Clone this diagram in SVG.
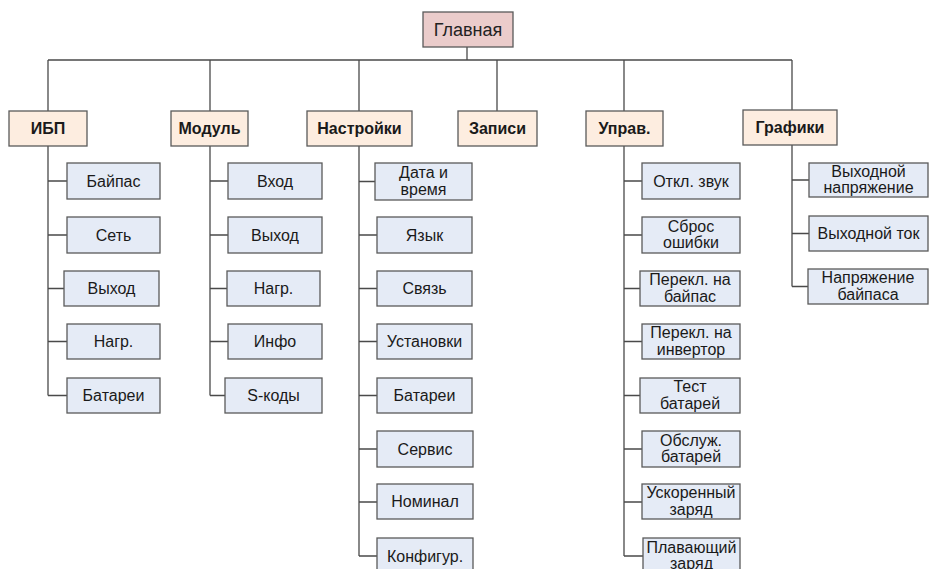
<svg xmlns="http://www.w3.org/2000/svg" width="929" height="569" viewBox="0 0 929 569">
  <style>
    .box rect { stroke: #5a5a5a; stroke-width: 1.3; }
    .root rect { fill: #ebcccb; }
    .sect rect { fill: #fdede0; }
    .item rect { fill: #e5ebf6; }
    text { font-family: "Liberation Sans", Arial, sans-serif; font-size: 16px; fill: #1a1a1a; text-anchor: middle; }
    .sect text { font-weight: bold; }
    .root text { font-size: 18px; fill: #222; }
    #connectors path { fill: none; stroke: #4a4a4a; stroke-width: 1.3; }
  </style>
  <rect width="929" height="569" fill="#ffffff"/>

  <g id="connectors">
    <!-- root to bus -->
    <path d="M467,47 V60 M48,60 H792"/>
    <!-- bus to sections -->
    <path d="M48,60 V111 M210,60 V111 M359,60 V111 M497,60 V111 M624,60 V111 M792,60 V110"/>
    <!-- ИБП branch -->
    <path d="M48,146 V395.5 M48,181 H67 M48,235 H67 M48,288.5 H64 M48,341.5 H67 M48,395.5 H67"/>
    <!-- Модуль branch -->
    <path d="M210,146 V395.5 M210,181 H228 M210,235 H228 M210,288.5 H227 M210,341.5 H228 M210,395.5 H225"/>
    <!-- Настройки branch -->
    <path d="M359,146 V556 M359,181.5 H375 M359,235 H377 M359,288.5 H377 M359,341.5 H377 M359,395.5 H377 M359,449 H377 M359,502 H377 M359,556 H377"/>
    <!-- Управ. branch -->
    <path d="M624,146 V556 M624,181 H642 M624,235 H642 M624,288.5 H640 M624,341.5 H642 M624,395.5 H640 M624,449 H642 M624,502 H642 M624,556 H643"/>
    <!-- Графики branch -->
    <path d="M792,145 V286.5 M792,180 H809 M792,233.5 H809 M792,286.5 H808"/>
  </g>

  <!-- root -->
  <g id="n-main" class="box root"><rect x="423" y="12" width="90" height="35"/><text x="468" y="35.5">Главная</text></g>

  <!-- sections -->
  <g id="n-ups" class="box sect"><rect x="9" y="111" width="78" height="35"/><text x="48" y="134">ИБП</text></g>
  <g id="n-module" class="box sect"><rect x="171" y="111" width="77" height="35"/><text x="209.5" y="134">Модуль</text></g>
  <g id="n-settings" class="box sect"><rect x="307" y="111" width="105" height="35"/><text x="359.5" y="134">Настройки</text></g>
  <g id="n-records" class="box sect"><rect x="458" y="111" width="79" height="35"/><text x="497.5" y="134">Записи</text></g>
  <g id="n-control" class="box sect"><rect x="586" y="111" width="77" height="35"/><text x="624.5" y="134">Управ.</text></g>
  <g id="n-graphs" class="box sect"><rect x="743" y="110" width="94" height="35"/><text x="790" y="133">Графики</text></g>

  <!-- ИБП items -->
  <g id="n-ups-bypass" class="box item"><rect x="67" y="163" width="93" height="36"/><text x="113.5" y="186.5">Байпас</text></g>
  <g id="n-ups-mains" class="box item"><rect x="67" y="217" width="93" height="36"/><text x="113.5" y="240.5">Сеть</text></g>
  <g id="n-ups-output" class="box item"><rect x="64" y="271" width="95" height="35"/><text x="111.5" y="294">Выход</text></g>
  <g id="n-ups-load" class="box item"><rect x="67" y="324" width="93" height="35"/><text x="113.5" y="347">Нагр.</text></g>
  <g id="n-ups-battery" class="box item"><rect x="67" y="378" width="93" height="35"/><text x="113.5" y="401">Батареи</text></g>

  <!-- Модуль items -->
  <g id="n-mod-input" class="box item"><rect x="228" y="163" width="94" height="36"/><text x="275" y="186.5">Вход</text></g>
  <g id="n-mod-output" class="box item"><rect x="228" y="217" width="94" height="36"/><text x="275" y="240.5">Выход</text></g>
  <g id="n-mod-load" class="box item"><rect x="227" y="271" width="93" height="35"/><text x="273.5" y="294">Нагр.</text></g>
  <g id="n-mod-info" class="box item"><rect x="228" y="324" width="94" height="35"/><text x="275" y="347">Инфо</text></g>
  <g id="n-mod-scodes" class="box item"><rect x="225" y="378" width="97" height="35"/><text x="273.5" y="401">S-коды</text></g>

  <!-- Настройки items -->
  <g id="n-set-datetime" class="box item"><rect x="375" y="163" width="97" height="37"/><text x="423.5" y="178">Дата и</text><text x="423.5" y="194.5">время</text></g>
  <g id="n-set-lang" class="box item"><rect x="377" y="217" width="95" height="36"/><text x="424.5" y="240.5">Язык</text></g>
  <g id="n-set-comm" class="box item"><rect x="377" y="271" width="95" height="35"/><text x="424.5" y="294">Связь</text></g>
  <g id="n-set-setup" class="box item"><rect x="377" y="324" width="95" height="35"/><text x="424.5" y="347">Установки</text></g>
  <g id="n-set-battery" class="box item"><rect x="377" y="378" width="95" height="35"/><text x="424.5" y="401">Батареи</text></g>
  <g id="n-set-service" class="box item"><rect x="377" y="431" width="96" height="36"/><text x="425" y="454.5">Сервис</text></g>
  <g id="n-set-rating" class="box item"><rect x="377" y="484" width="96" height="35"/><text x="425" y="507">Номинал</text></g>
  <g id="n-set-config" class="box item"><rect x="377" y="538" width="96" height="36"/><text x="425" y="561.5">Конфигур.</text></g>

  <!-- Управ. items -->
  <g id="n-ctl-mute" class="box item"><rect x="642" y="163" width="98" height="36"/><text x="691" y="186.5">Откл. звук</text></g>
  <g id="n-ctl-reset" class="box item"><rect x="642" y="217" width="98" height="36"/><text x="691" y="231.5">Сброс</text><text x="691" y="248">ошибки</text></g>
  <g id="n-ctl-tobypass" class="box item"><rect x="640" y="271" width="100" height="35"/><text x="690" y="285">Перекл. на</text><text x="690" y="301.5">байпас</text></g>
  <g id="n-ctl-toinverter" class="box item"><rect x="642" y="324" width="98" height="35"/><text x="691" y="338">Перекл. на</text><text x="691" y="354.5">инвертор</text></g>
  <g id="n-ctl-battest" class="box item"><rect x="640" y="378" width="100" height="35"/><text x="690" y="392">Тест</text><text x="690" y="408.5">батарей</text></g>
  <g id="n-ctl-batmaint" class="box item"><rect x="642" y="431" width="98" height="36"/><text x="691" y="445.5">Обслуж.</text><text x="691" y="462">батарей</text></g>
  <g id="n-ctl-boost" class="box item"><rect x="642" y="484" width="98" height="35"/><text x="691" y="498">Ускоренный</text><text x="691" y="514.5">заряд</text></g>
  <g id="n-ctl-float" class="box item"><rect x="643" y="538" width="97" height="36"/><text x="691.5" y="552.5">Плавающий</text><text x="691.5" y="569">заряд</text></g>

  <!-- Графики items -->
  <g id="n-gr-outvolt" class="box item"><rect x="809" y="163" width="119" height="34"/><text x="868.5" y="176.5">Выходной</text><text x="868.5" y="193">напряжение</text></g>
  <g id="n-gr-outcur" class="box item"><rect x="809" y="216" width="119" height="35"/><text x="868.5" y="239">Выходной ток</text></g>
  <g id="n-gr-bypvolt" class="box item"><rect x="808" y="269" width="120" height="35"/><text x="868" y="283">Напряжение</text><text x="868" y="299.5">байпаса</text></g>
</svg>
